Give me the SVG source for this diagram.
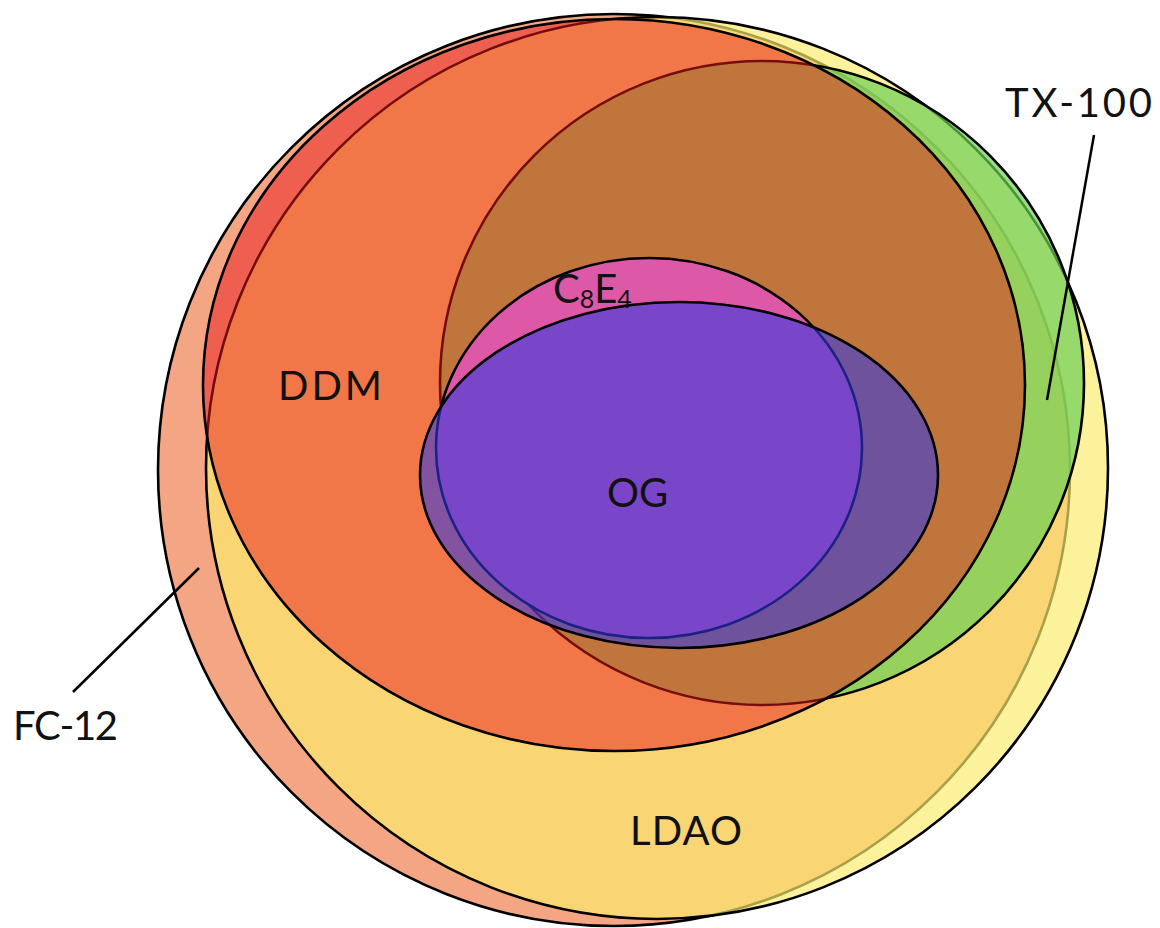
<svg xmlns="http://www.w3.org/2000/svg" width="1160" height="928" viewBox="0 0 1160 928">
<style>
.set{stroke:#000;stroke-width:2.6}
.lbl{font-family:Lato,"Liberation Sans",sans-serif;font-size:40px;fill:#111}
.lead{stroke:#000;stroke-width:2.5;fill:none}
</style>
<rect width="1160" height="928" fill="#fff"/>
<g id="fc12"><circle class="set" cx="614" cy="470" r="456" fill="#F4A584"/></g>
<g id="ldao"><circle class="set" cx="657" cy="468" r="451" fill="#FAEC6D" fill-opacity="0.68"/></g>
<g id="tx100"><circle class="set" cx="762" cy="383" r="322" fill="#6CCE55" fill-opacity="0.7"/></g>
<g id="ddm"><ellipse class="set" cx="614" cy="385" rx="411" ry="366" fill="#EA191C" fill-opacity="0.5"/></g>
<g id="c8e4"><ellipse class="set" cx="649" cy="448" rx="213" ry="190" fill="#DE58A8"/></g>
<g id="og"><ellipse class="set" cx="679" cy="475" rx="259" ry="173" fill="#3239E1" fill-opacity="0.58"/></g>
<g id="connectors">
<line class="lead" x1="1094" y1="135" x2="1047" y2="400"/>
<line class="lead" x1="73" y1="692" x2="199" y2="568"/>
</g>
<g id="text">
<text class="lbl" x="1005" y="117" textLength="147">TX-100</text>
<text class="lbl" x="13" y="740" textLength="105">FC-12</text>
<text class="lbl" x="278" y="400" textLength="104">DDM</text>
<text class="lbl" x="553" y="303">C<tspan font-size="25" dy="5">8</tspan><tspan dy="-5">E</tspan><tspan font-size="25" dy="5">4</tspan></text>
<text class="lbl" x="607" y="507">OG</text>
<text class="lbl" x="630" y="845" textLength="112">LDAO</text>
</g>
</svg>
